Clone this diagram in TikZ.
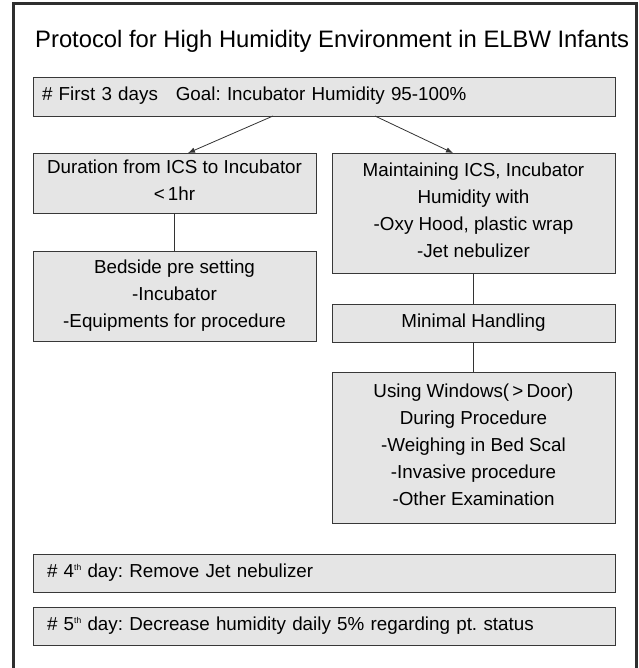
\documentclass[tikz,border=0pt]{standalone}
\usepackage{fontspec}
\setmainfont{Liberation Sans}
\usetikzlibrary{arrows.meta}
\newcommand{\mystrut}{\rule[-5pt]{0pt}{19pt}}
\newcommand{\thsup}{\raisebox{7.5pt}{\fontsize{8.5}{9}\selectfont th}}
\frenchspacing
\begin{document}
\frenchspacing
\begin{tikzpicture}[x=1pt,y=-1pt,
  box/.style={draw=black!78, line width=0.9pt, fill=black!10, align=center, inner sep=0pt,
    font=\fontsize{18.8}{27}\selectfont\frenchspacing,
    execute at begin node=\mystrut, execute at end node=\mystrut},
  wide/.style={box, minimum width=582pt, minimum height=38pt, text width=582pt, align=left},
  conn/.style={draw=black!80, line width=0.8pt},
  arr/.style={conn, -{Latex[length=7pt,width=5.5pt]}}]
\useasboundingbox (0,0) rectangle (638,668);
\draw[line width=3pt, draw=black!82] (13,4) rectangle (636,700);
\node[font=\fontsize{23.8}{26}\selectfont, anchor=base west, inner sep=0pt] (title) at (35,48) {Protocol for High Humidity Environment in ELBW Infants};
\node[wide, minimum height=39pt] (top) at (324,96.5) {\hspace{9pt}\# First 3 days\hspace{0.95em}Goal: Incubator Humidity 95-100\%};
\node[box, minimum width=283pt, minimum height=60pt] (l1) at (174.5,183) {Duration from ICS to Incubator\\<\,1hr};
\node[box, minimum width=283pt, minimum height=90pt] (l2) at (174.5,296) {Bedside pre setting\\-Incubator\\-Equipments for procedure};
\node[box, minimum width=283pt, minimum height=120pt] (r1) at (473.5,213) {Maintaining ICS, Incubator\\Humidity with\\-Oxy Hood, plastic wrap\\-Jet nebulizer};
\node[box, minimum width=283pt, minimum height=38pt] (r2) at (473.5,323) {Minimal Handling};
\node[box, minimum width=283pt, minimum height=151pt] (r3) at (473.5,447.5) {Using Windows(\,>\,Door)\\During Procedure\\-Weighing in Bed Scal\\-Invasive procedure\\-Other Examination};
\node[wide] (d4) at (324,573) {\hspace{14pt}\# 4\thsup\ day: Remove Jet nebulizer};
\node[wide] (d5) at (324,626) {\hspace{14pt}\# 5\thsup\ day: Decrease humidity daily 5\% regarding pt. status};
\coordinate (ta) at (273,116);
\coordinate (tb) at (375,116);
\coordinate (la) at (188,153);
\coordinate (rb) at (453,153);
\draw[arr] (ta) -- (la);
\draw[arr] (tb) -- (rb);
\draw[conn] (l1.south) -- (l2.north);
\draw[conn] (r1.south) -- (r2.north);
\draw[conn] (r2.south) -- (r3.north);
\end{tikzpicture}
\end{document}
